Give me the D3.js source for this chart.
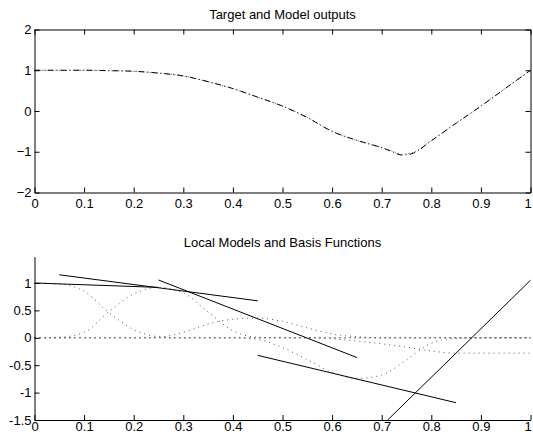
<!DOCTYPE html>
<html><head><meta charset="utf-8">
<script src="https://cdn.jsdelivr.net/npm/d3@7/dist/d3.min.js"></script>
<style>
body{margin:0;background:#fff}
svg text{font-family:"Liberation Sans",Arial,Helvetica,sans-serif;fill:#000}
</style>
</head><body>
<svg id="c" width="533" height="435"></svg>
<script>
// ---------- data ----------
const xTickVals = [0,0.1,0.2,0.3,0.4,0.5,0.6,0.7,0.8,0.9,1];
const xTickLabels = ["0","0.1","0.2","0.3","0.4","0.5","0.6","0.7","0.8","0.9","1"];
const topYTicks = [-2,-1,0,1,2];
const botYTicks = [-1.5,-1,-0.5,0,0.5,1];

const titleTop = "Target and Model outputs";
const titleBot = "Local Models and Basis Functions";

// Target and model outputs (top panel)
const outX      = [0,0.05,0.1,0.15,0.2,0.25,0.3,0.35,0.4,0.45,0.5,0.55,0.6,0.65,0.7,0.72,0.74,0.76,0.8,0.85,0.9,0.95,1];
const targetY   = [1,1,1,0.99,0.975,0.93,0.86,0.72,0.55,0.34,0.12,-0.16,-0.5,-0.72,-0.9,-0.98,-1.06,-1.03,-0.72,-0.3,0.12,0.56,1.0];
const modelY    = [1,1,1,0.99,0.975,0.93,0.86,0.72,0.55,0.34,0.12,-0.16,-0.5,-0.72,-0.9,-0.99,-1.08,-1.05,-0.73,-0.3,0.12,0.56,1.0];

// Local linear models (bottom panel): [x0, y0, x1, y1]
const localModels = [
  [0.00, 1.00, 0.25, 0.92],
  [0.05, 1.15, 0.45, 0.675],
  [0.25, 1.055, 0.65, -0.36],
  [0.45, -0.32, 0.85, -1.185],
  [0.712, -1.5, 1.00, 1.05]
];

// Weighted basis functions (bottom panel, dotted)
const bfX  = [0,0.05,0.1,0.15,0.2,0.25,0.3,0.35,0.4,0.45,0.5,0.55,0.6,0.65,0.7,0.75,0.8,0.85,0.9,0.95,1];
const bf1  = [1,0.98,0.85,0.46,0.15,0.02,0,0,0,0,0,0,0,0,0,0,0,0,0,0,0];
const bf2  = [0,0.01,0.1,0.48,0.8,0.92,0.82,0.47,0.13,0.01,0,0,0,0,0,0,0,0,0,0,0];
const bf3  = [0,0,0,0,0,0.01,0.1,0.25,0.34,0.36,0.3,0.18,0.07,0.02,0,0,0,0,0,0,0];
const bf4  = [0,0,0,0,0,0,0,0,0,-0.03,-0.18,-0.4,-0.63,-0.74,-0.68,-0.4,-0.1,-0.01,0,0,0];
const bf5  = [0,0,0,0,0,0,0,0,0,0,0,0,-0.02,-0.06,-0.11,-0.17,-0.24,-0.28,-0.28,-0.28,-0.28];
const basisFns = [bf1,bf2,bf3,bf4,bf5];

// ---------- drawing ----------
const svg = d3.select("#c");
const FS = 13;

function fmtX(d){ return xTickLabels[xTickVals.indexOf(d)]; }

// ---- top panel ----
const xT = d3.scaleLinear().domain([0,1]).range([34.5,530.5]);
const yT = d3.scaleLinear().domain([-2,2]).range([192.5,29.5]);

const gT = svg.append("g");
gT.append("text").attr("x",(xT(0)+xT(1))/2).attr("y",19).attr("text-anchor","middle")
  .attr("font-size",FS).text(titleTop);

const lineT = (ys)=> d3.line().x((d,i)=>xT(outX[i])).y(d=>yT(d)).curve(d3.curveMonotoneX)(ys);
gT.append("path").attr("d",lineT(targetY)).attr("fill","none").attr("stroke","#666")
  .attr("stroke-width",1).attr("stroke-dasharray","1,2.5");
gT.append("path").attr("d",lineT(modelY)).attr("fill","none").attr("stroke","#000")
  .attr("stroke-width",1).attr("stroke-dasharray","6,3,1,3");

function styleAxis(g){
  g.selectAll("path.domain").attr("stroke","#000").attr("stroke-width",1);
  g.selectAll(".tick line").attr("stroke","#000").attr("stroke-width",1);
  g.selectAll(".tick text").attr("font-size",FS).attr("font-family",null);
}
function nudgeLast(g){
  g.selectAll(".tick text").filter(d=>d===1).attr("dx",-3);
}

gT.append("g").attr("transform",`translate(0,${yT(-2)})`)
  .call(d3.axisBottom(xT).tickValues(xTickVals).tickFormat(fmtX).tickSize(-5).tickSizeOuter(0).tickPadding(6))
  .call(styleAxis).call(nudgeLast);
gT.append("g").attr("transform",`translate(0,${yT(2)})`)
  .call(d3.axisTop(xT).tickValues(xTickVals).tickFormat("").tickSize(-5).tickSizeOuter(0))
  .call(styleAxis);
gT.append("g").attr("transform",`translate(${xT(0)},0)`)
  .call(d3.axisLeft(yT).tickValues(topYTicks).tickFormat(d3.format("d")).tickSize(-5).tickSizeOuter(0).tickPadding(3))
  .call(styleAxis);
gT.append("g").attr("transform",`translate(${xT(1)},0)`)
  .call(d3.axisRight(yT).tickValues(topYTicks).tickFormat("").tickSize(-5).tickSizeOuter(0))
  .call(styleAxis);

// ---- bottom panel ----
const xB = d3.scaleLinear().domain([0,1]).range([34.5,530.5]);
const yB = d3.scaleLinear().domain([-1.5,1.48]).range([420,256.7]);

const gB = svg.append("g");
gB.append("text").attr("x",(xB(0)+xB(1))/2).attr("y",247).attr("text-anchor","middle")
  .attr("font-size",FS).text(titleBot);

const clip = svg.append("clipPath").attr("id","cb").append("rect")
  .attr("x",xB(0)).attr("y",yB(1.48)).attr("width",xB(1)-xB(0)+1).attr("height",yB(-1.5)-yB(1.48));

const lineB = d3.line().x((d,i)=>xB(bfX[i])).y(d=>yB(d)).curve(d3.curveMonotoneX);
gB.selectAll("path.bf").data(basisFns).join("path").attr("class","bf")
  .attr("d",d=>lineB(d)).attr("fill","none").attr("stroke","#555")
  .attr("stroke-width",1).attr("stroke-dasharray","1,4");

gB.selectAll("line.lm").data(localModels).join("line").attr("class","lm")
  .attr("x1",d=>xB(d[0])).attr("y1",d=>yB(d[1]))
  .attr("x2",d=>xB(d[2])).attr("y2",d=>yB(d[3]))
  .attr("stroke","#000").attr("stroke-width",1).attr("clip-path","url(#cb)");

gB.append("g").attr("transform",`translate(0,${yB(-1.5)})`)
  .call(d3.axisBottom(xB).tickValues(xTickVals).tickFormat(fmtX).tickSize(-5).tickSizeOuter(0).tickPadding(1.5))
  .call(styleAxis).call(nudgeLast);
gB.append("g").attr("transform",`translate(${xB(0)},0)`)
  .call(d3.axisLeft(yB).tickValues(botYTicks).tickFormat(d=>String(d)).tickSize(-5).tickSizeOuter(0).tickPadding(3))
  .call(styleAxis);
</script>
</body></html>
